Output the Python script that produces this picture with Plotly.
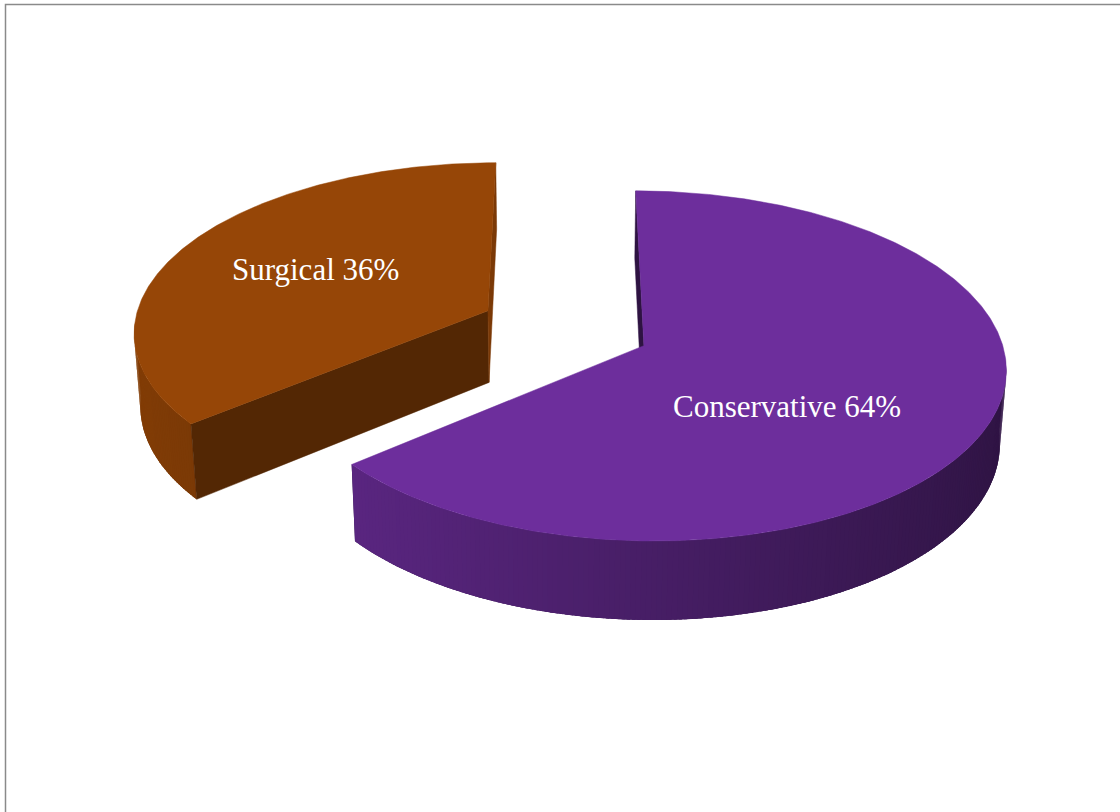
import numpy as np
import plotly.graph_objects as go

# Treatment split
categories = ["Conservative", "Surgical"]
shares = [64, 36]  # percent
top_colors = ["#6D2E9C", "#964607"]

W, H = 1120, 812

# 3-D pie geometry (unit radius disc, viewed from above-front with perspective)
CX, CY = 565.0, 328.0
FOCAL = 2727.0
DIST = 7.69
TILT = np.radians(28.4)
THICK = 0.235
EXPLODE = 0.243
START_DEG = 0.0            # first slice starts at 12 o'clock, runs clockwise
LIMB_MARGIN = np.radians(6.0)
LABEL_R = 0.53
LABEL_SHIFT = {"Conservative": (-36, -21), "Surgical": (-10, 5)}

sa, ca = np.sin(TILT), np.cos(TILT)
cam = np.array([0.0, DIST * sa, -DIST * ca])


def project(X, Y, Z):
    X, Y, Z = np.asarray(X, float), np.asarray(Y, float), np.asarray(Z, float)
    yp = Y * ca + Z * sa
    zp = Z * ca - Y * sa
    s = FOCAL / (DIST + zp)
    return CX + X * s, CY - yp * s


def shade(hex_color, k):
    h = hex_color.lstrip("#")
    r, g, b = (int(h[i:i + 2], 16) for i in (0, 2, 4))
    k = max(0.0, min(1.2, k))
    return "rgb({},{},{})".format(*(min(255, int(round(c * k))) for c in (r, g, b)))


def wall_shade(theta):
    return 0.65 - 0.22 * np.sin(theta)


def facing(point, normal):
    return float(np.dot(normal, cam - point)) > 0


fig = go.Figure()


def add_poly(xs, ys, color, stroke=0.0):
    xs = list(xs) + [xs[0]]
    ys = list(ys) + [ys[0]]
    fig.add_trace(go.Scatter(
        x=xs, y=ys, mode="lines", fill="toself", fillcolor=color,
        line=dict(color=color, width=stroke), hoverinfo="skip", showlegend=False))


def wall_poly(ox, oz, a, b, npts):
    arc = np.linspace(a, b, npts)
    X = np.concatenate([ox + np.sin(arc), ox + np.sin(arc[::-1])])
    Z = np.concatenate([oz + np.cos(arc), oz + np.cos(arc[::-1])])
    Y = np.concatenate([np.zeros(npts), np.full(npts, -THICK)])
    return project(X, Y, Z)


# slice angles from the shares
ends = START_DEG + np.cumsum(shares) / sum(shares) * 360.0
starts = np.concatenate([[START_DEG], ends[:-1]])

slices = []
for name, t0, t1, col in zip(categories, starts, ends, top_colors):
    tb = np.radians((t0 + t1) / 2)
    ox, oz = EXPLODE * np.sin(tb), EXPLODE * np.cos(tb)
    depth = oz * ca
    slices.append(dict(name=name, t0=t0, t1=t1, col=col, ox=ox, oz=oz, tb=tb, depth=depth))

# far slice first
slices.sort(key=lambda s: -s["depth"])

annotations = []
for s in slices:
    ox, oz, col = s["ox"], s["oz"], s["col"]
    t0, t1 = np.radians(s["t0"]), np.radians(s["t1"])

    # outer curved wall: thin overlapping strips on the visible part
    step = np.radians(0.75)
    n = int(np.ceil((t1 - t0) / step))
    th = np.linspace(t0, t1, n + 1)
    strips = []
    for a, b in zip(th[:-1], th[1:]):
        m = 0.5 * (a + b)
        nrm = np.array([np.sin(m), 0.0, np.cos(m)])
        p = np.array([ox + np.sin(m), -THICK / 2, oz + np.cos(m)])
        if not facing(p, nrm):
            continue
        strips.append((a, b, m))

    if strips:
        lo, hi = strips[0][0], strips[-1][1]
        # backing band with a smooth silhouette round the limb
        lo_ext = max(t0, lo - LIMB_MARGIN)
        hi_ext = min(t1, hi + LIMB_MARGIN)
        limb = lo if lo > t0 + 1e-6 else hi
        px, py = wall_poly(ox, oz, lo_ext, hi_ext, 200)
        add_poly(px, py, shade(col, wall_shade(limb)))

        for a, b, m in strips:
            b2 = min(b + 0.6 * step, hi)
            px, py = wall_poly(ox, oz, a, b2, 4)
            add_poly(px, py, shade(col, wall_shade(m)))

    # flat cut faces at both radial edges
    for t, sgn in ((t0, -1), (t1, 1)):
        na = t + sgn * np.pi / 2
        nrm = np.array([np.sin(na), 0.0, np.cos(na)])
        p = np.array([ox + 0.5 * np.sin(t), -THICK / 2, oz + 0.5 * np.cos(t)])
        if not facing(p, nrm):
            continue
        X = [ox, ox + np.sin(t), ox + np.sin(t), ox]
        Z = [oz, oz + np.cos(t), oz + np.cos(t), oz]
        Y = [0, 0, -THICK, -THICK]
        px, py = project(X, Y, Z)
        k = 0.62 + 0.2 * nrm[0] + 0.25 * nrm[2]
        add_poly(px, py, shade(col, k), stroke=0.5)

    # top face
    th = np.linspace(t0, t1, int(np.ceil((s["t1"] - s["t0"]) / 0.5)) + 1)
    X = np.concatenate([[ox], ox + np.sin(th)])
    Z = np.concatenate([[oz], oz + np.cos(th)])
    px, py = project(X, np.zeros_like(X), Z)
    add_poly(px, py, col, stroke=0.5)

    # data label
    share = shares[categories.index(s["name"])]
    lx, ly = project(ox + LABEL_R * np.sin(s["tb"]), 0.0, oz + LABEL_R * np.cos(s["tb"]))
    dx, dy = LABEL_SHIFT[s["name"]]
    annotations.append(dict(
        x=float(lx), y=float(ly), xref="x", yref="y",
        text=f"{s['name']} {share}%", showarrow=False,
        xanchor="center", yanchor="middle", xshift=dx, yshift=dy,
        font=dict(family="Times New Roman, Liberation Serif, serif", size=31, color="white")))

fig.update_layout(
    width=W, height=H,
    margin=dict(l=0, r=0, t=0, b=0),
    paper_bgcolor="white", plot_bgcolor="white",
    xaxis=dict(range=[0, W], visible=False, fixedrange=True),
    yaxis=dict(range=[H, 0], visible=False, fixedrange=True),
    annotations=annotations,
    shapes=[dict(type="rect", xref="x", yref="y", x0=5.5, y0=4.5, x1=W + 20, y1=H + 20,
                 line=dict(color="#8a8a8a", width=1.5), fillcolor="rgba(0,0,0,0)", layer="below")],
)

fig.write_html("out.html")
